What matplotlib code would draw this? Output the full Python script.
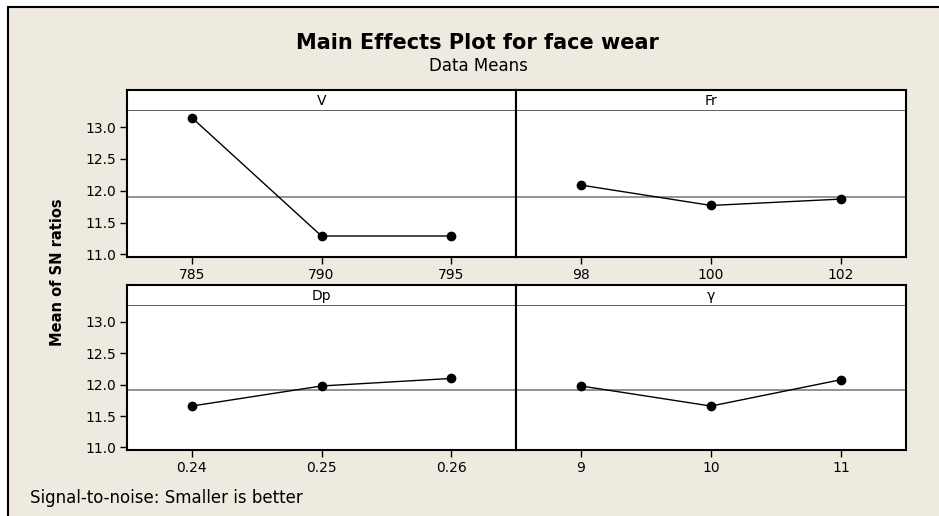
import matplotlib
matplotlib.use("Agg")
import matplotlib.pyplot as plt
from matplotlib.patches import Rectangle

# data
factors = ["V", "Fr", "Dp", "γ"]
levels = [["785", "790", "795"],
          ["98", "100", "102"],
          ["0.24", "0.25", "0.26"],
          ["9", "10", "11"]]
sn_means = [[13.15, 11.29, 11.29],
            [12.09, 11.77, 11.87],
            [11.66, 11.98, 12.10],
            [11.98, 11.66, 12.08]]
grand_mean = 11.91
yticks = [11.0, 11.5, 12.0, 12.5, 13.0]

W, H = 939, 516
bg = "#EEEAE0"

fig = plt.figure(figsize=(W / 100, H / 100), dpi=100)
fig.patch.set_facecolor("white")

# beige frame with black top/left border
fig.patches.append(Rectangle((8 / W, -0.05), 1.1, (H - 7) / H + 0.05,
                             transform=fig.transFigure, facecolor=bg,
                             edgecolor="black", linewidth=1.5, zorder=-10))


def px(x0, y0, x1, y1):
    # pixel box -> figure fraction [left, bottom, width, height]
    return [x0 / W, (H - y1) / H, (x1 - x0) / W, (y1 - y0) / H]


cols = [(127, 516), (516, 906)]
rows = [(90, 110, 257), (285, 305, 450)]

for i, name in enumerate(factors):
    r, c = divmod(i, 2)
    x0, x1 = cols[c]
    s0, s1, p1 = rows[r]

    ax = fig.add_axes(px(x0, s1, x1, p1))
    ax.set_facecolor("white")
    xs = list(range(len(levels[i])))
    ax.axhline(grand_mean, color="#808080", linewidth=1.2, zorder=1)
    ax.plot(xs, sn_means[i], color="black", linewidth=1, marker="o",
            markersize=6, zorder=3)
    ax.set_xlim(-0.5, 2.5)
    ax.set_ylim(10.96, 13.27)
    ax.set_xticks(xs)
    ax.set_xticklabels(levels[i])
    ax.set_yticks(yticks)
    ax.set_yticklabels(["%.1f" % v for v in yticks])
    ax.tick_params(direction="out", length=5, width=1, labelsize=10, pad=3)
    if c == 1:
        ax.tick_params(axis="y", left=False, labelleft=False)
    for sp in ["left", "right", "bottom"]:
        ax.spines[sp].set_color("black")
        ax.spines[sp].set_linewidth(1.5)
    ax.spines["top"].set_color("#606060")
    ax.spines["top"].set_linewidth(1.4)

    strip = fig.add_axes(px(x0, s0, x1, s1))
    strip.set_xticks([])
    strip.set_yticks([])
    strip.set_facecolor("white")
    for sp in ["left", "right", "top"]:
        strip.spines[sp].set_color("black")
        strip.spines[sp].set_linewidth(1.5)
    strip.spines["bottom"].set_visible(False)
    strip.text(0.5, 0.45, name, ha="center", va="center", fontsize=10,
               transform=strip.transAxes)

fig.text(477 / W, 1 - 43 / H, "Main Effects Plot for face wear",
         ha="center", va="center", fontsize=15, fontweight="bold")
fig.text(478 / W, 1 - 66 / H, "Data Means", ha="center", va="center",
         fontsize=12)
fig.text(58 / W, 1 - 272 / H, "Mean of SN ratios", ha="center", va="center",
         rotation=90, fontsize=10.5, fontweight="bold")
fig.text(30 / W, 1 - 498 / H, "Signal-to-noise: Smaller is better",
         ha="left", va="center", fontsize=12)

fig.savefig("out.png", dpi=100, facecolor=fig.get_facecolor())
